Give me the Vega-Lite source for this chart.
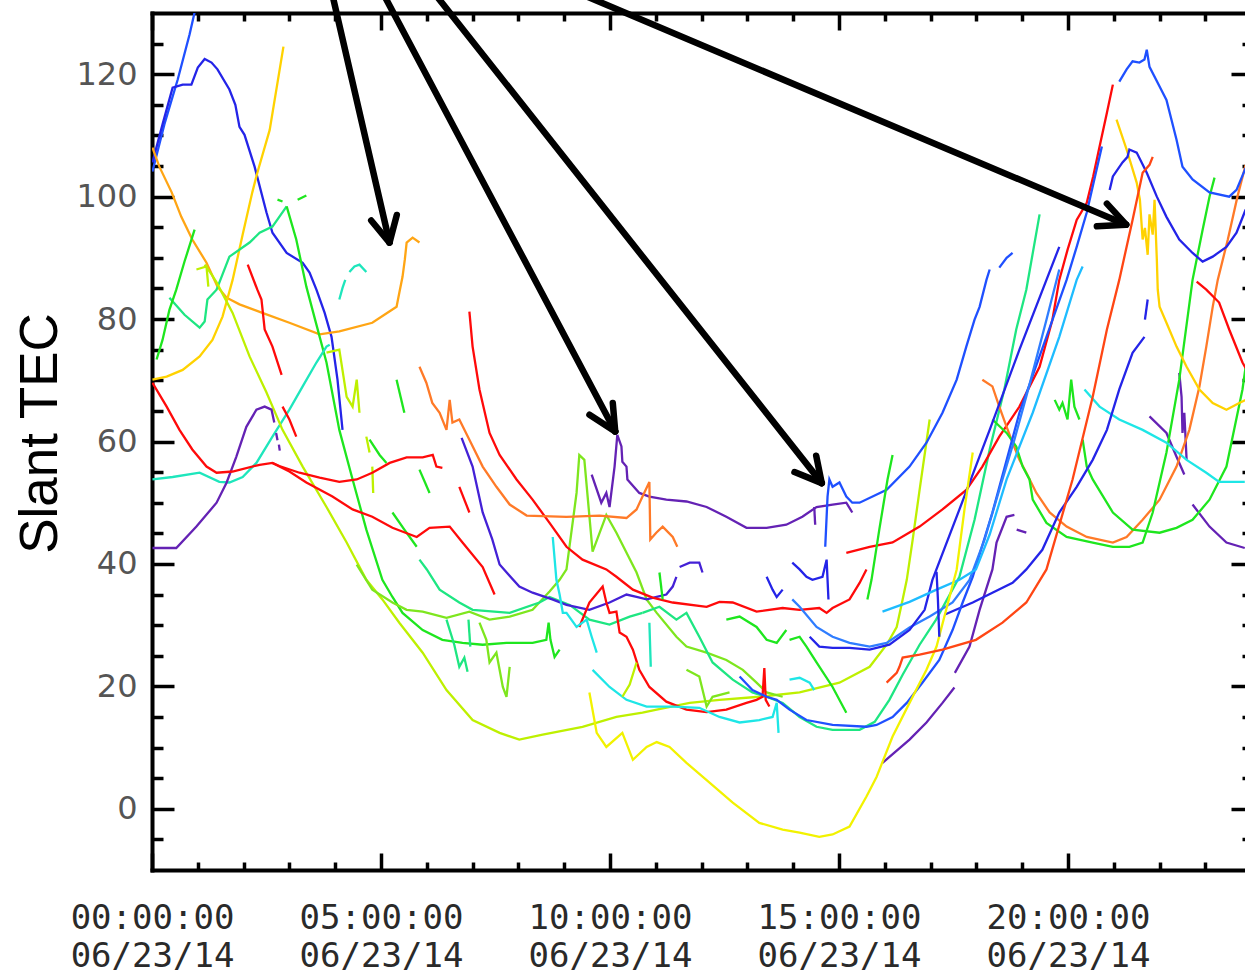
{
"$schema":"https://vega.github.io/schema/vega-lite/v6.json",
"autosize":{"type":"none"},
"padding":{"left":152,"top":13,"right":0,"bottom":106},
"width":1093,"height":857,
"background":"white",
"config":{"view":{"stroke":null},"axis":{"grid":false}},
"resolve":{"axis":{"x":"independent","y":"independent"}},
"layer":[
{"data":{"values":[
{"s":"s1","c":"blue2","h":0.01,"v":104.1},{"s":"s1","c":"blue2","h":0.27,"v":111.8},{"s":"s1","c":"blue2","h":0.56,"v":119.1},{"s":"s1","c":"blue2","h":0.82,"v":126.5},{"s":"s1","c":"blue2","h":0.97,"v":131.4},
{"s":"s2","c":"blue","h":0.01,"v":105.6},{"s":"s2","c":"blue","h":0.23,"v":111.8},{"s":"s2","c":"blue","h":0.45,"v":117.8},{"s":"s2","c":"blue","h":0.67,"v":118.3},{"s":"s2","c":"blue","h":0.86,"v":118.3},{"s":"s2","c":"blue","h":1.0,"v":121.1},{"s":"s2","c":"blue","h":1.15,"v":122.5},{"s":"s2","c":"blue","h":1.30,"v":121.9},{"s":"s2","c":"blue","h":1.43,"v":120.8},{"s":"s2","c":"blue","h":1.69,"v":117.5},{"s":"s2","c":"blue","h":1.82,"v":115.0},{"s":"s2","c":"blue","h":1.91,"v":111.4},{"s":"s2","c":"blue","h":2.02,"v":110.1},{"s":"s2","c":"blue","h":2.24,"v":104.9},{"s":"s2","c":"blue","h":2.50,"v":97.4},{"s":"s2","c":"blue","h":2.63,"v":94.1},{"s":"s2","c":"blue","h":2.94,"v":90.8},{"s":"s2","c":"blue","h":3.29,"v":89.2},{"s":"s2","c":"blue","h":3.44,"v":87.6},{"s":"s2","c":"blue","h":3.59,"v":84.8},{"s":"s2","c":"blue","h":3.77,"v":81.0},{"s":"s2","c":"blue","h":3.92,"v":77.1},{"s":"s2","c":"blue","h":4.05,"v":70.1},{"s":"s2","c":"blue","h":4.16,"v":61.9},
{"s":"s3","c":"orange","h":0.01,"v":108.0},{"s":"s3","c":"orange","h":0.16,"v":104.9},{"s":"s3","c":"orange","h":0.43,"v":100.7},{"s":"s3","c":"orange","h":0.64,"v":96.7},{"s":"s3","c":"orange","h":0.88,"v":93.0},{"s":"s3","c":"orange","h":1.19,"v":89.2},{"s":"s3","c":"orange","h":1.43,"v":85.3},{"s":"s3","c":"orange","h":1.63,"v":83.5},{"s":"s3","c":"orange","h":1.91,"v":82.4},{"s":"s3","c":"orange","h":2.41,"v":81.0},{"s":"s3","c":"orange","h":3.00,"v":79.4},{"s":"s3","c":"orange","h":3.66,"v":77.5},{"s":"s3","c":"orange","h":4.09,"v":78.0},{"s":"s3","c":"orange","h":4.81,"v":79.4},{"s":"s3","c":"orange","h":5.34,"v":82.0},{"s":"s3","c":"orange","h":5.40,"v":84.3},{"s":"s3","c":"orange","h":5.47,"v":86.9},{"s":"s3","c":"orange","h":5.52,"v":89.7},{"s":"s3","c":"orange","h":5.56,"v":92.5},{"s":"s3","c":"orange","h":5.69,"v":93.3},{"s":"s3","c":"orange","h":5.84,"v":92.5},
{"s":"s4","c":"gold","h":0.01,"v":70.1},{"s":"s4","c":"gold","h":0.32,"v":70.6},{"s":"s4","c":"gold","h":0.67,"v":71.7},{"s":"s4","c":"gold","h":1.04,"v":73.9},{"s":"s4","c":"gold","h":1.32,"v":76.6},{"s":"s4","c":"gold","h":1.54,"v":80.4},{"s":"s4","c":"gold","h":1.76,"v":86.4},{"s":"s4","c":"gold","h":1.98,"v":93.8},{"s":"s4","c":"gold","h":2.19,"v":100.7},{"s":"s4","c":"gold","h":2.30,"v":103.9},{"s":"s4","c":"gold","h":2.57,"v":110.9},{"s":"s4","c":"gold","h":2.87,"v":124.5},
{"s":"s5","c":"spring","h":0.38,"v":83.5},{"s":"s5","c":"spring","h":0.71,"v":80.7},{"s":"s5","c":"spring","h":1.04,"v":78.6},{"s":"s5","c":"spring","h":1.15,"v":79.6},{"s":"s5","c":"spring","h":1.21,"v":83.2},{"s":"s5","c":"spring","h":1.41,"v":84.8},{"s":"s5","c":"spring","h":1.69,"v":90.2},{"s":"s5","c":"spring","h":2.13,"v":92.5},{"s":"s5","c":"spring","h":2.35,"v":94.1},{"s":"s5","c":"spring","h":2.63,"v":95.1},{"s":"s5","c":"spring","h":2.94,"v":98.4},
{"s":"s6","c":"green","h":0.10,"v":73.4},{"s":"s6","c":"green","h":0.23,"v":76.6},{"s":"s6","c":"green","h":0.38,"v":81.5},{"s":"s6","c":"green","h":0.53,"v":84.8},{"s":"s6","c":"green","h":0.71,"v":89.4},{"s":"s6","c":"green","h":0.93,"v":94.6},
{"s":"s7","c":"green","h":2.94,"v":98.4},{"s":"s7","c":"green","h":3.15,"v":93.0},{"s":"s7","c":"green","h":3.37,"v":85.3},{"s":"s7","c":"green","h":3.59,"v":79.1},{"s":"s7","c":"green","h":3.81,"v":72.9},{"s":"s7","c":"green","h":4.09,"v":61.9},{"s":"s7","c":"green","h":4.38,"v":53.8},{"s":"s7","c":"green","h":4.68,"v":45.6},{"s":"s7","c":"green","h":5.03,"v":37.4},{"s":"s7","c":"green","h":5.25,"v":34.6},{"s":"s7","c":"green","h":5.47,"v":32.0},{"s":"s7","c":"green","h":5.91,"v":29.2},{"s":"s7","c":"green","h":6.34,"v":27.6},{"s":"s7","c":"green","h":6.78,"v":27.1},{"s":"s7","c":"green","h":7.22,"v":26.8},{"s":"s7","c":"green","h":7.74,"v":27.1},{"s":"s7","c":"green","h":8.31,"v":27.1},{"s":"s7","c":"green","h":8.61,"v":27.6},{"s":"s7","c":"green","h":8.66,"v":30.4},{"s":"s7","c":"green","h":8.70,"v":27.6},{"s":"s7","c":"green","h":8.79,"v":24.8},{"s":"s7","c":"green","h":8.90,"v":26.0},
{"s":"s8","c":"turq","h":0.01,"v":53.8},{"s":"s8","c":"turq","h":0.45,"v":54.2},{"s":"s8","c":"turq","h":1.04,"v":54.9},{"s":"s8","c":"turq","h":1.47,"v":53.4},{"s":"s8","c":"turq","h":1.69,"v":53.3},{"s":"s8","c":"turq","h":1.98,"v":54.2},{"s":"s8","c":"turq","h":2.28,"v":56.5},{"s":"s8","c":"turq","h":2.63,"v":60.8},{"s":"s8","c":"turq","h":3.00,"v":65.2},{"s":"s8","c":"turq","h":3.29,"v":69.0},{"s":"s8","c":"turq","h":3.59,"v":72.9},{"s":"s8","c":"turq","h":3.81,"v":75.5},{"s":"s8","c":"turq","h":3.88,"v":75.8},
{"s":"s9","c":"turq","h":4.09,"v":83.2},{"s":"s9","c":"turq","h":4.16,"v":85.1},{"s":"s9","c":"turq","h":4.22,"v":86.4},
{"s":"s10","c":"turq","h":4.31,"v":87.7},{"s":"s10","c":"turq","h":4.42,"v":88.6},{"s":"s10","c":"turq","h":4.53,"v":88.9},{"s":"s10","c":"turq","h":4.68,"v":87.7},
{"s":"s11","c":"ygreen","h":1.15,"v":88.9},{"s":"s11","c":"ygreen","h":1.30,"v":87.3},{"s":"s11","c":"ygreen","h":1.41,"v":86.0},{"s":"s11","c":"ygreen","h":1.76,"v":81.0},{"s":"s11","c":"ygreen","h":2.13,"v":73.9},{"s":"s11","c":"ygreen","h":2.50,"v":68.0},{"s":"s11","c":"ygreen","h":2.85,"v":61.9},{"s":"s11","c":"ygreen","h":3.29,"v":55.9},{"s":"s11","c":"ygreen","h":3.81,"v":49.3},{"s":"s11","c":"ygreen","h":4.25,"v":43.5},{"s":"s11","c":"ygreen","h":4.68,"v":37.4},{"s":"s11","c":"ygreen","h":5.03,"v":34.2},{"s":"s11","c":"ygreen","h":5.40,"v":30.4},{"s":"s11","c":"ygreen","h":5.91,"v":25.5},{"s":"s11","c":"ygreen","h":6.43,"v":19.4},{"s":"s11","c":"ygreen","h":7.00,"v":14.5},{"s":"s11","c":"ygreen","h":7.59,"v":12.4},{"s":"s11","c":"ygreen","h":8.02,"v":11.3},{"s":"s11","c":"ygreen","h":8.53,"v":12.1},{"s":"s11","c":"ygreen","h":9.40,"v":13.4},{"s":"s11","c":"ygreen","h":10.14,"v":15.0},{"s":"s11","c":"ygreen","h":10.71,"v":15.7},{"s":"s11","c":"ygreen","h":11.02,"v":16.2},{"s":"s11","c":"ygreen","h":11.74,"v":17.3},{"s":"s11","c":"ygreen","h":12.39,"v":17.8},{"s":"s11","c":"ygreen","h":13.26,"v":18.3},{"s":"s11","c":"ygreen","h":14.14,"v":19.0},{"s":"s11","c":"ygreen","h":15.01,"v":20.6},{"s":"s11","c":"ygreen","h":15.67,"v":23.2},{"s":"s11","c":"ygreen","h":16.04,"v":26.8},{"s":"s11","c":"ygreen","h":16.26,"v":29.7},{"s":"s11","c":"ygreen","h":16.39,"v":34.2},{"s":"s11","c":"ygreen","h":16.48,"v":37.4},{"s":"s11","c":"ygreen","h":16.61,"v":44.0},{"s":"s11","c":"ygreen","h":16.76,"v":52.1},{"s":"s11","c":"ygreen","h":16.98,"v":63.6},
{"s":"s12","c":"lime","h":4.47,"v":39.9},{"s":"s12","c":"lime","h":4.81,"v":35.8},{"s":"s12","c":"lime","h":5.25,"v":33.7},{"s":"s12","c":"lime","h":5.56,"v":32.5},{"s":"s12","c":"lime","h":5.91,"v":32.2},{"s":"s12","c":"lime","h":6.43,"v":31.2},{"s":"s12","c":"lime","h":6.93,"v":32.2},{"s":"s12","c":"lime","h":7.37,"v":30.9},{"s":"s12","c":"lime","h":7.81,"v":31.4},{"s":"s12","c":"lime","h":8.31,"v":32.5},{"s":"s12","c":"lime","h":8.68,"v":35.5},{"s":"s12","c":"lime","h":8.90,"v":37.4},{"s":"s12","c":"lime","h":9.05,"v":39.1},{"s":"s12","c":"lime","h":9.27,"v":51.6},{"s":"s12","c":"lime","h":9.33,"v":57.8},{"s":"s12","c":"lime","h":9.44,"v":57.0},{"s":"s12","c":"lime","h":9.62,"v":42.0},{"s":"s12","c":"lime","h":9.92,"v":48.0},{"s":"s12","c":"lime","h":10.14,"v":45.1},{"s":"s12","c":"lime","h":10.58,"v":38.6},{"s":"s12","c":"lime","h":10.80,"v":34.2},{"s":"s12","c":"lime","h":11.02,"v":32.0},{"s":"s12","c":"lime","h":11.45,"v":28.1},{"s":"s12","c":"lime","h":11.67,"v":26.5},{"s":"s12","c":"lime","h":12.11,"v":25.5},{"s":"s12","c":"lime","h":12.54,"v":24.3},{"s":"s12","c":"lime","h":12.90,"v":22.7},{"s":"s12","c":"lime","h":13.20,"v":20.6},{"s":"s12","c":"lime","h":13.42,"v":19.0},{"s":"s12","c":"lime","h":13.77,"v":18.3},
{"s":"s13","c":"spring","h":10.71,"v":32.0},{"s":"s13","c":"spring","h":11.08,"v":33.0},{"s":"s13","c":"spring","h":11.45,"v":30.9},{"s":"s13","c":"spring","h":11.67,"v":32.0},{"s":"s13","c":"spring","h":11.95,"v":28.1},{"s":"s13","c":"spring","h":12.24,"v":23.9},{"s":"s13","c":"spring","h":12.68,"v":21.1},{"s":"s13","c":"spring","h":13.11,"v":19.0},{"s":"s13","c":"spring","h":13.42,"v":18.3},{"s":"s13","c":"spring","h":13.77,"v":17.3},{"s":"s13","c":"spring","h":14.14,"v":15.0},{"s":"s13","c":"spring","h":14.51,"v":13.4},{"s":"s13","c":"spring","h":14.86,"v":12.9},{"s":"s13","c":"spring","h":15.45,"v":12.9},{"s":"s13","c":"spring","h":15.78,"v":14.2},{"s":"s13","c":"spring","h":16.10,"v":17.8},{"s":"s13","c":"spring","h":16.39,"v":21.9},{"s":"s13","c":"spring","h":16.76,"v":26.8},{"s":"s13","c":"spring","h":17.12,"v":30.9},{"s":"s13","c":"spring","h":17.63,"v":37.9},{"s":"s13","c":"spring","h":17.96,"v":47.2},{"s":"s13","c":"spring","h":18.29,"v":58.7},{"s":"s13","c":"spring","h":18.61,"v":68.5},{"s":"s13","c":"spring","h":18.87,"v":78.3},{"s":"s13","c":"spring","h":19.09,"v":84.8},{"s":"s13","c":"spring","h":19.38,"v":97.1},
{"s":"s14","c":"spring","h":5.84,"v":40.7},{"s":"s14","c":"spring","h":6.00,"v":39.1},{"s":"s14","c":"spring","h":6.28,"v":35.8},{"s":"s14","c":"spring","h":6.71,"v":33.7},{"s":"s14","c":"spring","h":7.00,"v":32.5},{"s":"s14","c":"spring","h":7.81,"v":32.0},{"s":"s14","c":"spring","h":8.46,"v":33.7},{"s":"s14","c":"spring","h":8.68,"v":34.6},{"s":"s14","c":"spring","h":9.12,"v":33.3},{"s":"s14","c":"spring","h":9.55,"v":30.9},{"s":"s14","c":"spring","h":9.99,"v":30.1},{"s":"s14","c":"spring","h":10.43,"v":31.4},{"s":"s14","c":"spring","h":10.71,"v":32.0},
{"s":"s15","c":"green","h":5.34,"v":70.1},{"s":"s15","c":"green","h":5.51,"v":64.7},
{"s":"s16","c":"green","h":4.75,"v":60.3},{"s":"s16","c":"green","h":4.97,"v":57.8},{"s":"s16","c":"green","h":5.12,"v":56.5},
{"s":"s17","c":"green","h":5.84,"v":55.4},{"s":"s17","c":"green","h":6.06,"v":51.6},
{"s":"s18","c":"green","h":5.25,"v":48.4},{"s":"s18","c":"green","h":5.51,"v":45.6},{"s":"s18","c":"green","h":5.78,"v":42.8},
{"s":"s19","c":"ygreen","h":3.81,"v":74.5},{"s":"s19","c":"ygreen","h":4.09,"v":75.0},{"s":"s19","c":"ygreen","h":4.25,"v":67.3},{"s":"s19","c":"ygreen","h":4.38,"v":65.7},{"s":"s19","c":"ygreen","h":4.47,"v":70.1},{"s":"s19","c":"ygreen","h":4.53,"v":64.7},
{"s":"s20","c":"ygreen","h":4.68,"v":60.8},{"s":"s20","c":"ygreen","h":4.75,"v":58.2},
{"s":"s21","c":"ygreen","h":4.81,"v":55.9},{"s":"s21","c":"ygreen","h":4.83,"v":51.6},
{"s":"s22","c":"purple","h":0.01,"v":42.6},{"s":"s22","c":"purple","h":0.53,"v":42.6},{"s":"s22","c":"purple","h":0.97,"v":46.1},{"s":"s22","c":"purple","h":1.41,"v":50.0},{"s":"s22","c":"purple","h":1.63,"v":53.3},{"s":"s22","c":"purple","h":1.84,"v":57.5},{"s":"s22","c":"purple","h":2.06,"v":62.4},{"s":"s22","c":"purple","h":2.28,"v":65.2},{"s":"s22","c":"purple","h":2.46,"v":65.7},{"s":"s22","c":"purple","h":2.61,"v":65.2},{"s":"s22","c":"purple","h":2.67,"v":63.1},
{"s":"s23","c":"purple","h":2.71,"v":61.4},{"s":"s23","c":"purple","h":2.74,"v":60.2},
{"s":"s23b","c":"purple","h":2.77,"v":59.5},{"s":"s23b","c":"purple","h":2.79,"v":58.5},
{"s":"s24","c":"indigo","h":6.76,"v":60.6},{"s":"s24","c":"indigo","h":7.00,"v":55.9},{"s":"s24","c":"indigo","h":7.22,"v":48.4},{"s":"s24","c":"indigo","h":7.43,"v":44.0},{"s":"s24","c":"indigo","h":7.59,"v":39.9},{"s":"s24","c":"indigo","h":8.02,"v":36.3},{"s":"s24","c":"indigo","h":8.31,"v":35.3},{"s":"s24","c":"indigo","h":8.74,"v":34.2},{"s":"s24","c":"indigo","h":9.05,"v":33.3},{"s":"s24","c":"indigo","h":9.55,"v":32.5},{"s":"s24","c":"indigo","h":9.99,"v":33.7},{"s":"s24","c":"indigo","h":10.36,"v":35.0},{"s":"s24","c":"indigo","h":10.58,"v":34.6},{"s":"s24","c":"indigo","h":10.80,"v":34.2},{"s":"s24","c":"indigo","h":11.02,"v":34.6},{"s":"s24","c":"indigo","h":11.23,"v":35.0},{"s":"s24","c":"indigo","h":11.37,"v":36.3},{"s":"s24","c":"indigo","h":11.45,"v":37.9},
{"s":"s25","c":"indigo","h":11.52,"v":39.5},{"s":"s25","c":"indigo","h":11.74,"v":40.2},{"s":"s25","c":"indigo","h":11.95,"v":40.2},{"s":"s25","c":"indigo","h":12.02,"v":38.6},
{"s":"s26","c":"purple","h":9.60,"v":54.6},{"s":"s26","c":"purple","h":9.81,"v":50.0},{"s":"s26","c":"purple","h":9.92,"v":51.6},{"s":"s26","c":"purple","h":9.99,"v":49.3},{"s":"s26","c":"purple","h":10.10,"v":55.9},{"s":"s26","c":"purple","h":10.16,"v":61.1},{"s":"s26","c":"purple","h":10.25,"v":59.2},{"s":"s26","c":"purple","h":10.27,"v":56.7},{"s":"s26","c":"purple","h":10.36,"v":55.9},{"s":"s26","c":"purple","h":10.38,"v":53.8},{"s":"s26","c":"purple","h":10.64,"v":51.6},{"s":"s26","c":"purple","h":10.86,"v":51.0},{"s":"s26","c":"purple","h":11.23,"v":50.5},{"s":"s26","c":"purple","h":11.67,"v":50.2},{"s":"s26","c":"purple","h":12.11,"v":49.3},{"s":"s26","c":"purple","h":12.54,"v":47.7},{"s":"s26","c":"purple","h":12.98,"v":45.9},{"s":"s26","c":"purple","h":13.42,"v":45.9},{"s":"s26","c":"purple","h":13.85,"v":46.4},{"s":"s26","c":"purple","h":14.20,"v":47.7},{"s":"s26","c":"purple","h":14.51,"v":49.3},{"s":"s26","c":"purple","h":14.86,"v":49.7},{"s":"s26","c":"purple","h":15.16,"v":50.0},{"s":"s26","c":"purple","h":15.29,"v":48.4},
{"s":"s27","c":"purple","h":14.46,"v":49.3},{"s":"s27","c":"purple","h":14.48,"v":46.4},
{"s":"s28","c":"purple","h":21.78,"v":64.1},{"s":"s28","c":"purple","h":22.15,"v":61.4},{"s":"s28","c":"purple","h":22.37,"v":57.5},{"s":"s28","c":"purple","h":22.54,"v":54.6},
{"s":"s29","c":"purple","h":22.72,"v":49.7},{"s":"s29","c":"purple","h":23.09,"v":46.1},{"s":"s29","c":"purple","h":23.46,"v":43.5},{"s":"s29","c":"purple","h":23.86,"v":42.6},
{"s":"s30","c":"purple","h":22.43,"v":71.2},{"s":"s30","c":"purple","h":22.48,"v":67.3},{"s":"s30","c":"purple","h":22.50,"v":61.4},{"s":"s30","c":"purple","h":22.54,"v":64.7},{"s":"s30","c":"purple","h":22.59,"v":57.0},
{"s":"s31","c":"purple","h":15.95,"v":7.5},{"s":"s31","c":"purple","h":16.54,"v":11.3},{"s":"s31","c":"purple","h":16.91,"v":14.1},{"s":"s31","c":"purple","h":17.26,"v":17.3},{"s":"s31","c":"purple","h":17.52,"v":19.8},
{"s":"s32","c":"purple","h":17.53,"v":22.2},{"s":"s32","c":"purple","h":17.85,"v":26.5},{"s":"s32","c":"purple","h":18.07,"v":32.5},{"s":"s32","c":"purple","h":18.35,"v":39.1},{"s":"s32","c":"purple","h":18.44,"v":43.5},{"s":"s32","c":"purple","h":18.66,"v":47.7},{"s":"s32","c":"purple","h":18.83,"v":48.0},
{"s":"s33","c":"purple","h":18.88,"v":45.6},{"s":"s33","c":"purple","h":19.09,"v":45.1},
{"s":"s34","c":"red","h":0.01,"v":69.6},{"s":"s34","c":"red","h":0.32,"v":65.7},{"s":"s34","c":"red","h":0.60,"v":61.9},{"s":"s34","c":"red","h":0.88,"v":58.7},{"s":"s34","c":"red","h":1.19,"v":55.9},{"s":"s34","c":"red","h":1.41,"v":54.9},{"s":"s34","c":"red","h":1.76,"v":55.1},{"s":"s34","c":"red","h":2.35,"v":56.2},{"s":"s34","c":"red","h":2.63,"v":56.5},{"s":"s34","c":"red","h":2.78,"v":56.0},{"s":"s34","c":"red","h":3.22,"v":54.9},{"s":"s34","c":"red","h":3.66,"v":54.1},{"s":"s34","c":"red","h":4.09,"v":53.4},{"s":"s34","c":"red","h":4.47,"v":53.8},{"s":"s34","c":"red","h":4.81,"v":54.9},{"s":"s34","c":"red","h":5.19,"v":56.5},{"s":"s34","c":"red","h":5.56,"v":57.4},{"s":"s34","c":"red","h":5.91,"v":57.4},{"s":"s34","c":"red","h":6.13,"v":57.8},{"s":"s34","c":"red","h":6.21,"v":55.9},{"s":"s34","c":"red","h":6.34,"v":55.7},
{"s":"s35","c":"red","h":2.63,"v":56.5},{"s":"s35","c":"red","h":3.00,"v":55.1},{"s":"s35","c":"red","h":3.37,"v":53.3},{"s":"s35","c":"red","h":3.94,"v":51.0},{"s":"s35","c":"red","h":4.38,"v":48.9},{"s":"s35","c":"red","h":4.81,"v":47.7},{"s":"s35","c":"red","h":5.25,"v":45.9},{"s":"s35","c":"red","h":5.78,"v":44.4},{"s":"s35","c":"red","h":6.06,"v":45.9},{"s":"s35","c":"red","h":6.50,"v":46.1},{"s":"s35","c":"red","h":6.78,"v":43.5},{"s":"s35","c":"red","h":7.22,"v":39.5},{"s":"s35","c":"red","h":7.48,"v":35.0},
{"s":"s36","c":"red","h":2.09,"v":88.9},{"s":"s36","c":"red","h":2.30,"v":84.8},{"s":"s36","c":"red","h":2.39,"v":83.2},{"s":"s36","c":"red","h":2.46,"v":78.3},{"s":"s36","c":"red","h":2.63,"v":75.5},{"s":"s36","c":"red","h":2.83,"v":70.9},
{"s":"s37","c":"red","h":2.85,"v":65.7},{"s":"s37","c":"red","h":3.00,"v":63.6},{"s":"s37","c":"red","h":3.15,"v":60.8},
{"s":"s38","c":"red","h":6.71,"v":52.6},{"s":"s38","c":"red","h":6.93,"v":48.4},
{"s":"s40","c":"red","h":6.93,"v":81.2},{"s":"s40","c":"red","h":7.00,"v":75.5},{"s":"s40","c":"red","h":7.15,"v":68.5},{"s":"s40","c":"red","h":7.37,"v":61.4},{"s":"s40","c":"red","h":7.59,"v":57.8},{"s":"s40","c":"red","h":7.96,"v":53.8},{"s":"s40","c":"red","h":8.31,"v":50.5},{"s":"s40","c":"red","h":8.68,"v":46.7},{"s":"s40","c":"red","h":9.05,"v":42.8},{"s":"s40","c":"red","h":9.40,"v":40.7},{"s":"s40","c":"red","h":9.92,"v":39.1},{"s":"s40","c":"red","h":10.14,"v":37.9},{"s":"s40","c":"red","h":10.50,"v":35.8},{"s":"s40","c":"red","h":10.93,"v":34.5},{"s":"s40","c":"red","h":11.37,"v":33.7},{"s":"s40","c":"red","h":12.11,"v":33.0},{"s":"s40","c":"red","h":12.39,"v":33.8},{"s":"s40","c":"red","h":12.68,"v":33.7},{"s":"s40","c":"red","h":13.20,"v":32.2},{"s":"s40","c":"red","h":13.77,"v":32.8},{"s":"s40","c":"red","h":14.14,"v":32.5},{"s":"s40","c":"red","h":14.57,"v":32.8},{"s":"s40","c":"red","h":14.73,"v":32.0},{"s":"s40","c":"red","h":14.86,"v":32.8},{"s":"s40","c":"red","h":15.23,"v":34.2},{"s":"s40","c":"red","h":15.45,"v":36.9},{"s":"s40","c":"red","h":15.60,"v":39.1},
{"s":"s41","c":"red","h":15.16,"v":41.8},{"s":"s41","c":"red","h":15.67,"v":42.8},{"s":"s41","c":"red","h":16.17,"v":43.5},{"s":"s41","c":"red","h":16.76,"v":46.1},{"s":"s41","c":"red","h":17.26,"v":48.9},{"s":"s41","c":"red","h":17.78,"v":52.1},{"s":"s41","c":"red","h":18.13,"v":55.9},{"s":"s41","c":"red","h":18.50,"v":60.8},{"s":"s41","c":"red","h":18.94,"v":65.7},{"s":"s41","c":"red","h":19.38,"v":72.2},{"s":"s41","c":"red","h":19.66,"v":79.9},{"s":"s41","c":"red","h":19.81,"v":86.4},{"s":"s41","c":"red","h":19.99,"v":91.3},{"s":"s41","c":"red","h":20.19,"v":96.2},{"s":"s41","c":"red","h":20.41,"v":99.0},{"s":"s41","c":"red","h":20.55,"v":103.3},{"s":"s41","c":"red","h":20.69,"v":108.2},{"s":"s41","c":"red","h":20.85,"v":113.7},{"s":"s41","c":"red","h":20.98,"v":118.3},
{"s":"s42","c":"red","h":9.33,"v":29.7},{"s":"s42","c":"red","h":9.55,"v":33.7},{"s":"s42","c":"red","h":9.84,"v":36.3},{"s":"s42","c":"red","h":9.92,"v":33.7},{"s":"s42","c":"red","h":9.99,"v":32.0},{"s":"s42","c":"red","h":10.14,"v":32.2},{"s":"s42","c":"red","h":10.21,"v":28.8},{"s":"s42","c":"red","h":10.36,"v":28.1},{"s":"s42","c":"red","h":10.50,"v":26.0},{"s":"s42","c":"red","h":10.64,"v":22.7},{"s":"s42","c":"red","h":10.86,"v":19.9},{"s":"s42","c":"red","h":11.23,"v":17.5},{"s":"s42","c":"red","h":11.67,"v":16.2},{"s":"s42","c":"red","h":12.11,"v":15.8},{"s":"s42","c":"red","h":12.54,"v":16.2},{"s":"s42","c":"red","h":12.98,"v":17.3},{"s":"s42","c":"red","h":13.20,"v":17.8},{"s":"s42","c":"red","h":13.33,"v":18.3},{"s":"s42","c":"red","h":13.37,"v":23.0},{"s":"s42","c":"red","h":13.40,"v":17.8},{"s":"s42","c":"red","h":13.48,"v":16.7},
{"s":"s43","c":"dorange","h":5.84,"v":72.2},{"s":"s43","c":"dorange","h":5.99,"v":69.6},{"s":"s43","c":"dorange","h":6.12,"v":66.3},{"s":"s43","c":"dorange","h":6.28,"v":64.7},{"s":"s43","c":"dorange","h":6.43,"v":61.9},{"s":"s43","c":"dorange","h":6.50,"v":66.8},{"s":"s43","c":"dorange","h":6.56,"v":63.1},{"s":"s43","c":"dorange","h":6.71,"v":63.6},{"s":"s43","c":"dorange","h":6.93,"v":60.3},{"s":"s43","c":"dorange","h":7.22,"v":55.9},{"s":"s43","c":"dorange","h":7.52,"v":52.6},{"s":"s43","c":"dorange","h":7.81,"v":49.7},{"s":"s43","c":"dorange","h":8.18,"v":47.9},{"s":"s43","c":"dorange","h":9.05,"v":47.7},{"s":"s43","c":"dorange","h":9.77,"v":47.9},{"s":"s43","c":"dorange","h":10.36,"v":47.5},{"s":"s43","c":"dorange","h":10.58,"v":48.9},{"s":"s43","c":"dorange","h":10.71,"v":51.0},{"s":"s43","c":"dorange","h":10.86,"v":53.4},{"s":"s43","c":"dorange","h":10.88,"v":44.0},{"s":"s43","c":"dorange","h":11.01,"v":45.1},{"s":"s43","c":"dorange","h":11.15,"v":46.1},{"s":"s43","c":"dorange","h":11.37,"v":44.4},{"s":"s43","c":"dorange","h":11.47,"v":42.8},
{"s":"s44","c":"dorange","h":18.13,"v":70.1},{"s":"s44","c":"dorange","h":18.35,"v":69.0},{"s":"s44","c":"dorange","h":18.50,"v":65.7},{"s":"s44","c":"dorange","h":18.66,"v":62.4},{"s":"s44","c":"dorange","h":18.79,"v":59.8},{"s":"s44","c":"dorange","h":18.94,"v":57.0},{"s":"s44","c":"dorange","h":19.09,"v":54.9},{"s":"s44","c":"dorange","h":19.31,"v":51.6},{"s":"s44","c":"dorange","h":19.60,"v":48.4},{"s":"s44","c":"dorange","h":19.97,"v":46.1},{"s":"s44","c":"dorange","h":20.41,"v":44.4},{"s":"s44","c":"dorange","h":20.98,"v":43.5},{"s":"s44","c":"dorange","h":21.28,"v":44.4},{"s":"s44","c":"dorange","h":21.63,"v":47.2},{"s":"s44","c":"dorange","h":22.00,"v":50.5},{"s":"s44","c":"dorange","h":22.37,"v":55.9},{"s":"s44","c":"dorange","h":22.65,"v":61.9},{"s":"s44","c":"dorange","h":22.87,"v":69.0},{"s":"s44","c":"dorange","h":23.02,"v":75.5},{"s":"s44","c":"dorange","h":23.16,"v":82.0},{"s":"s44","c":"dorange","h":23.27,"v":86.4},{"s":"s44","c":"dorange","h":23.49,"v":93.0},{"s":"s44","c":"dorange","h":23.70,"v":100.0},{"s":"s44","c":"dorange","h":23.88,"v":105.2},
{"s":"s45","c":"green","h":18.35,"v":63.6},{"s":"s45","c":"green","h":18.66,"v":61.4},{"s":"s45","c":"green","h":18.87,"v":59.2},{"s":"s45","c":"green","h":19.01,"v":55.9},{"s":"s45","c":"green","h":19.16,"v":53.8},{"s":"s45","c":"green","h":19.23,"v":50.5},{"s":"s45","c":"green","h":19.53,"v":46.7},{"s":"s45","c":"green","h":19.97,"v":44.4},{"s":"s45","c":"green","h":20.54,"v":43.5},{"s":"s45","c":"green","h":20.98,"v":42.8},{"s":"s45","c":"green","h":21.34,"v":42.8},{"s":"s45","c":"green","h":21.63,"v":43.5},{"s":"s45","c":"green","h":21.85,"v":48.4},{"s":"s45","c":"green","h":22.15,"v":58.2},{"s":"s45","c":"green","h":22.43,"v":70.1},{"s":"s45","c":"green","h":22.72,"v":86.4},{"s":"s45","c":"green","h":22.94,"v":94.6},{"s":"s45","c":"green","h":23.09,"v":100.0},{"s":"s45","c":"green","h":23.20,"v":103.1},
{"s":"s46","c":"green","h":20.32,"v":60.3},{"s":"s46","c":"green","h":20.41,"v":55.9},{"s":"s46","c":"green","h":20.54,"v":53.8},{"s":"s46","c":"green","h":20.98,"v":48.4},{"s":"s46","c":"green","h":21.41,"v":45.6},{"s":"s46","c":"green","h":22.00,"v":45.1},{"s":"s46","c":"green","h":22.37,"v":45.9},{"s":"s46","c":"green","h":22.72,"v":47.2},{"s":"s46","c":"green","h":23.09,"v":50.5},{"s":"s46","c":"green","h":23.46,"v":55.9},{"s":"s46","c":"green","h":23.81,"v":68.5},{"s":"s46","c":"green","h":23.96,"v":76.6},
{"s":"s47","c":"green","h":19.71,"v":66.8},{"s":"s47","c":"green","h":19.81,"v":65.2},{"s":"s47","c":"green","h":19.88,"v":66.3},{"s":"s47","c":"green","h":19.99,"v":63.6},{"s":"s47","c":"green","h":20.07,"v":70.1},{"s":"s47","c":"green","h":20.14,"v":65.7},{"s":"s47","c":"green","h":20.25,"v":63.6},
{"s":"s48","c":"cyan","h":20.36,"v":68.5},{"s":"s48","c":"cyan","h":20.69,"v":65.7},{"s":"s48","c":"cyan","h":21.12,"v":63.6},{"s":"s48","c":"cyan","h":21.63,"v":61.9},{"s":"s48","c":"cyan","h":22.15,"v":59.8},{"s":"s48","c":"cyan","h":22.59,"v":57.0},{"s":"s48","c":"cyan","h":23.02,"v":54.9},{"s":"s48","c":"cyan","h":23.30,"v":53.4},{"s":"s48","c":"cyan","h":23.86,"v":53.4},
{"s":"s49","c":"gold","h":21.06,"v":112.6},{"s":"s49","c":"gold","h":21.28,"v":107.7},{"s":"s49","c":"gold","h":21.50,"v":102.3},{"s":"s49","c":"gold","h":21.57,"v":99.5},{"s":"s49","c":"gold","h":21.63,"v":93.0},{"s":"s49","c":"gold","h":21.68,"v":94.9},{"s":"s49","c":"gold","h":21.74,"v":90.5},{"s":"s49","c":"gold","h":21.78,"v":97.1},{"s":"s49","c":"gold","h":21.85,"v":93.8},{"s":"s49","c":"gold","h":21.89,"v":99.5},{"s":"s49","c":"gold","h":21.94,"v":89.7},{"s":"s49","c":"gold","h":21.96,"v":84.8},{"s":"s49","c":"gold","h":22.00,"v":82.0},{"s":"s49","c":"gold","h":22.15,"v":79.4},{"s":"s49","c":"gold","h":22.37,"v":75.5},{"s":"s49","c":"gold","h":22.59,"v":72.2},{"s":"s49","c":"gold","h":22.87,"v":68.5},{"s":"s49","c":"gold","h":23.16,"v":66.3},{"s":"s49","c":"gold","h":23.46,"v":65.2},{"s":"s49","c":"gold","h":23.74,"v":66.3},{"s":"s49","c":"gold","h":23.88,"v":66.8},
{"s":"s50","c":"blue","h":20.91,"v":101.1},{"s":"s50","c":"blue","h":20.98,"v":103.3},{"s":"s50","c":"blue","h":21.19,"v":105.6},{"s":"s50","c":"blue","h":21.30,"v":106.5},{"s":"s50","c":"blue","h":21.34,"v":107.7},{"s":"s50","c":"blue","h":21.50,"v":107.2},{"s":"s50","c":"blue","h":21.72,"v":103.9},{"s":"s50","c":"blue","h":21.94,"v":100.0},{"s":"s50","c":"blue","h":22.15,"v":96.7},{"s":"s50","c":"blue","h":22.43,"v":93.0},{"s":"s50","c":"blue","h":22.72,"v":90.8},{"s":"s50","c":"blue","h":22.94,"v":89.4},{"s":"s50","c":"blue","h":23.16,"v":90.2},{"s":"s50","c":"blue","h":23.46,"v":91.8},{"s":"s50","c":"blue","h":23.68,"v":94.1},{"s":"s50","c":"blue","h":23.88,"v":97.9},
{"s":"s51","c":"blue2","h":21.12,"v":118.8},{"s":"s51","c":"blue2","h":21.28,"v":120.8},{"s":"s51","c":"blue2","h":21.41,"v":122.1},{"s":"s51","c":"blue2","h":21.56,"v":121.9},{"s":"s51","c":"blue2","h":21.67,"v":122.4},{"s":"s51","c":"blue2","h":21.72,"v":124.0},{"s":"s51","c":"blue2","h":21.78,"v":121.2},{"s":"s51","c":"blue2","h":22.00,"v":118.0},{"s":"s51","c":"blue2","h":22.15,"v":115.8},{"s":"s51","c":"blue2","h":22.37,"v":109.3},{"s":"s51","c":"blue2","h":22.50,"v":104.9},{"s":"s51","c":"blue2","h":22.72,"v":102.8},{"s":"s51","c":"blue2","h":23.09,"v":100.7},{"s":"s51","c":"blue2","h":23.52,"v":100.0},{"s":"s51","c":"blue2","h":23.68,"v":101.1},{"s":"s51","c":"blue2","h":23.88,"v":104.7},
{"s":"s52","c":"blue2","h":14.70,"v":42.8},{"s":"s52","c":"blue2","h":14.75,"v":51.0},{"s":"s52","c":"blue2","h":14.79,"v":53.8},{"s":"s52","c":"blue2","h":14.86,"v":52.6},{"s":"s52","c":"blue2","h":15.01,"v":53.3},{"s":"s52","c":"blue2","h":15.16,"v":51.0},{"s":"s52","c":"blue2","h":15.29,"v":50.0},{"s":"s52","c":"blue2","h":15.45,"v":50.0},{"s":"s52","c":"blue2","h":16.04,"v":52.1},{"s":"s52","c":"blue2","h":16.54,"v":55.9},{"s":"s52","c":"blue2","h":16.91,"v":59.8},{"s":"s52","c":"blue2","h":17.26,"v":64.7},{"s":"s52","c":"blue2","h":17.57,"v":70.1},{"s":"s52","c":"blue2","h":17.78,"v":75.5},{"s":"s52","c":"blue2","h":17.96,"v":79.9},{"s":"s52","c":"blue2","h":18.07,"v":82.0},{"s":"s52","c":"blue2","h":18.22,"v":86.4},{"s":"s52","c":"blue2","h":18.29,"v":88.1},
{"s":"s53","c":"blue2","h":18.50,"v":88.4},{"s":"s53","c":"blue2","h":18.66,"v":90.0},{"s":"s53","c":"blue2","h":18.79,"v":90.8},
{"s":"s54","c":"blue","h":17.30,"v":31.7},{"s":"s54","c":"blue","h":17.92,"v":33.7},{"s":"s54","c":"blue","h":18.35,"v":35.3},{"s":"s54","c":"blue","h":18.79,"v":36.9},{"s":"s54","c":"blue","h":19.09,"v":39.1},{"s":"s54","c":"blue","h":19.44,"v":42.3},{"s":"s54","c":"blue","h":19.81,"v":48.4},{"s":"s54","c":"blue","h":20.19,"v":52.6},{"s":"s54","c":"blue","h":20.54,"v":57.0},{"s":"s54","c":"blue","h":20.85,"v":61.9},{"s":"s54","c":"blue","h":21.12,"v":68.5},{"s":"s54","c":"blue","h":21.41,"v":74.5},{"s":"s54","c":"blue","h":21.67,"v":77.1},
{"s":"s55","c":"blue","h":21.68,"v":79.9},{"s":"s55","c":"blue","h":21.74,"v":83.2},
{"s":"s56","c":"blue2","h":12.83,"v":21.6},{"s":"s56","c":"blue2","h":13.11,"v":19.4},{"s":"s56","c":"blue2","h":13.42,"v":18.3},{"s":"s56","c":"blue2","h":13.64,"v":17.8},{"s":"s56","c":"blue2","h":13.92,"v":16.2},{"s":"s56","c":"blue2","h":14.29,"v":14.5},{"s":"s56","c":"blue2","h":14.86,"v":13.7},{"s":"s56","c":"blue2","h":15.60,"v":13.4},{"s":"s56","c":"blue2","h":15.82,"v":13.7},{"s":"s56","c":"blue2","h":16.17,"v":15.0},{"s":"s56","c":"blue2","h":16.48,"v":17.3},{"s":"s56","c":"blue2","h":16.82,"v":20.6},{"s":"s56","c":"blue2","h":17.19,"v":24.3},{"s":"s56","c":"blue2","h":17.48,"v":29.2},{"s":"s56","c":"blue2","h":17.70,"v":33.7},{"s":"s56","c":"blue2","h":17.92,"v":37.9},{"s":"s56","c":"blue2","h":18.35,"v":48.4},{"s":"s56","c":"blue2","h":18.94,"v":64.7},{"s":"s56","c":"blue2","h":19.53,"v":77.1},{"s":"s56","c":"blue2","h":19.97,"v":86.4},{"s":"s56","c":"blue2","h":20.19,"v":91.8},{"s":"s56","c":"blue2","h":20.41,"v":97.4},{"s":"s56","c":"blue2","h":20.74,"v":108.2},
{"s":"s57","c":"azure","h":13.98,"v":34.2},{"s":"s57","c":"azure","h":14.14,"v":33.0},{"s":"s57","c":"azure","h":14.51,"v":29.7},{"s":"s57","c":"azure","h":14.86,"v":28.1},{"s":"s57","c":"azure","h":15.23,"v":27.1},{"s":"s57","c":"azure","h":15.67,"v":26.5},{"s":"s57","c":"azure","h":16.04,"v":27.1},{"s":"s57","c":"azure","h":16.54,"v":29.6},{"s":"s57","c":"azure","h":16.98,"v":31.4},{"s":"s57","c":"azure","h":17.48,"v":33.7},{"s":"s57","c":"azure","h":17.85,"v":37.4},{"s":"s57","c":"azure","h":18.18,"v":44.0},{"s":"s57","c":"azure","h":18.50,"v":52.1},{"s":"s57","c":"azure","h":18.83,"v":60.3},{"s":"s57","c":"azure","h":19.16,"v":69.3},{"s":"s57","c":"azure","h":19.53,"v":79.9},{"s":"s57","c":"azure","h":19.81,"v":88.1},
{"s":"s58","c":"blue","h":14.36,"v":28.1},{"s":"s58","c":"blue","h":14.57,"v":26.5},{"s":"s58","c":"blue","h":14.86,"v":26.3},{"s":"s58","c":"blue","h":15.23,"v":26.3},{"s":"s58","c":"blue","h":15.67,"v":26.0},{"s":"s58","c":"blue","h":16.10,"v":26.8},{"s":"s58","c":"blue","h":16.54,"v":29.2},{"s":"s58","c":"blue","h":16.87,"v":32.5},{"s":"s58","c":"blue","h":17.04,"v":37.4},{"s":"s58","c":"blue","h":17.63,"v":48.9},{"s":"s58","c":"blue","h":18.29,"v":61.9},{"s":"s58","c":"blue","h":18.94,"v":75.0},{"s":"s58","c":"blue","h":19.53,"v":86.4},{"s":"s58","c":"blue","h":19.81,"v":91.8},
{"s":"s59","c":"skyblue","h":15.95,"v":32.2},{"s":"s59","c":"skyblue","h":16.54,"v":33.8},{"s":"s59","c":"skyblue","h":17.13,"v":35.8},{"s":"s59","c":"skyblue","h":17.63,"v":37.4},{"s":"s59","c":"skyblue","h":17.99,"v":39.1},{"s":"s59","c":"skyblue","h":18.29,"v":44.8},{"s":"s59","c":"skyblue","h":18.66,"v":53.8},{"s":"s59","c":"skyblue","h":19.23,"v":64.7},{"s":"s59","c":"skyblue","h":19.81,"v":77.1},{"s":"s59","c":"skyblue","h":20.19,"v":86.4},{"s":"s59","c":"skyblue","h":20.32,"v":88.6},
{"s":"s60","c":"yellow","h":9.55,"v":19.0},{"s":"s60","c":"yellow","h":9.71,"v":12.4},{"s":"s60","c":"yellow","h":9.92,"v":10.1},{"s":"s60","c":"yellow","h":10.27,"v":12.4},{"s":"s60","c":"yellow","h":10.50,"v":8.0},{"s":"s60","c":"yellow","h":10.80,"v":10.1},{"s":"s60","c":"yellow","h":11.02,"v":10.9},{"s":"s60","c":"yellow","h":11.30,"v":10.1},{"s":"s60","c":"yellow","h":11.67,"v":7.5},{"s":"s60","c":"yellow","h":12.11,"v":4.7},{"s":"s60","c":"yellow","h":12.68,"v":1.0},{"s":"s60","c":"yellow","h":13.26,"v":-2.3},{"s":"s60","c":"yellow","h":13.77,"v":-3.4},{"s":"s60","c":"yellow","h":14.14,"v":-3.9},{"s":"s60","c":"yellow","h":14.57,"v":-4.6},{"s":"s60","c":"yellow","h":14.86,"v":-4.2},{"s":"s60","c":"yellow","h":15.23,"v":-2.9},{"s":"s60","c":"yellow","h":15.60,"v":2.0},{"s":"s60","c":"yellow","h":15.82,"v":5.2},{"s":"s60","c":"yellow","h":16.17,"v":11.8},{"s":"s60","c":"yellow","h":16.54,"v":17.3},{"s":"s60","c":"yellow","h":16.91,"v":22.7},{"s":"s60","c":"yellow","h":17.13,"v":26.5},{"s":"s60","c":"yellow","h":17.57,"v":39.1},{"s":"s60","c":"yellow","h":17.74,"v":48.9},{"s":"s60","c":"yellow","h":17.92,"v":58.2},
{"s":"s61","c":"green","h":15.62,"v":34.2},{"s":"s61","c":"green","h":15.71,"v":37.4},{"s":"s61","c":"green","h":15.88,"v":45.6},{"s":"s61","c":"green","h":16.06,"v":53.8},{"s":"s61","c":"green","h":16.17,"v":57.8},
{"s":"s62","c":"cyan","h":8.75,"v":44.4},{"s":"s62","c":"cyan","h":8.83,"v":37.4},{"s":"s62","c":"cyan","h":8.90,"v":35.0},{"s":"s62","c":"cyan","h":8.97,"v":32.0},{"s":"s62","c":"cyan","h":9.05,"v":32.0},{"s":"s62","c":"cyan","h":9.27,"v":29.7},{"s":"s62","c":"cyan","h":9.49,"v":30.9},{"s":"s62","c":"cyan","h":9.60,"v":28.1},{"s":"s62","c":"cyan","h":9.71,"v":25.5},
{"s":"s63","c":"cyan","h":9.62,"v":22.7},{"s":"s63","c":"cyan","h":9.99,"v":19.9},{"s":"s63","c":"cyan","h":10.36,"v":17.8},{"s":"s63","c":"cyan","h":10.80,"v":16.7},{"s":"s63","c":"cyan","h":11.37,"v":16.7},{"s":"s63","c":"cyan","h":11.95,"v":16.5},{"s":"s63","c":"cyan","h":12.39,"v":15.0},{"s":"s63","c":"cyan","h":12.83,"v":14.1},{"s":"s63","c":"cyan","h":13.26,"v":14.5},{"s":"s63","c":"cyan","h":13.55,"v":15.0},{"s":"s63","c":"cyan","h":13.64,"v":17.3},{"s":"s63","c":"cyan","h":13.68,"v":12.4},
{"s":"s64","c":"blue","h":13.42,"v":37.9},{"s":"s64","c":"blue","h":13.55,"v":35.8},{"s":"s64","c":"blue","h":13.64,"v":34.6},{"s":"s64","c":"blue","h":13.77,"v":35.8},
{"s":"s65","c":"blue","h":13.98,"v":40.2},{"s":"s65","c":"blue","h":14.14,"v":39.1},{"s":"s65","c":"blue","h":14.29,"v":37.9},{"s":"s65","c":"blue","h":14.42,"v":37.4},{"s":"s65","c":"blue","h":14.64,"v":37.9},{"s":"s65","c":"blue","h":14.73,"v":40.7},{"s":"s65","c":"blue","h":14.77,"v":34.2},
{"s":"s66","c":"green","h":12.54,"v":30.9},{"s":"s66","c":"green","h":12.83,"v":31.4},{"s":"s66","c":"green","h":13.20,"v":29.7},{"s":"s66","c":"green","h":13.42,"v":27.6},{"s":"s66","c":"green","h":13.64,"v":27.1},{"s":"s66","c":"green","h":13.85,"v":29.2},
{"s":"s67","c":"green","h":13.92,"v":27.6},{"s":"s67","c":"green","h":14.14,"v":28.1},{"s":"s67","c":"green","h":14.29,"v":26.5},{"s":"s67","c":"green","h":14.51,"v":23.9},{"s":"s67","c":"green","h":14.86,"v":19.9},{"s":"s67","c":"green","h":15.16,"v":15.7},
{"s":"s68","c":"cyan","h":13.92,"v":21.1},{"s":"s68","c":"cyan","h":14.14,"v":21.4},{"s":"s68","c":"cyan","h":14.36,"v":20.6},{"s":"s68","c":"cyan","h":14.46,"v":19.4},
{"s":"s69","c":"lime","h":11.67,"v":22.7},{"s":"s69","c":"lime","h":11.95,"v":21.6},{"s":"s69","c":"lime","h":12.11,"v":16.7},{"s":"s69","c":"lime","h":12.24,"v":18.3},{"s":"s69","c":"lime","h":12.61,"v":19.0},
{"s":"s70","c":"lime","h":7.15,"v":30.4},{"s":"s70","c":"lime","h":7.30,"v":27.6},{"s":"s70","c":"lime","h":7.37,"v":23.9},{"s":"s70","c":"lime","h":7.52,"v":25.5},{"s":"s70","c":"lime","h":7.66,"v":19.9},{"s":"s70","c":"lime","h":7.74,"v":18.3},{"s":"s70","c":"lime","h":7.81,"v":23.2},
{"s":"s71","c":"spring","h":6.43,"v":30.9},{"s":"s71","c":"spring","h":6.60,"v":26.8},{"s":"s71","c":"spring","h":6.71,"v":23.2},{"s":"s71","c":"spring","h":6.82,"v":24.7},{"s":"s71","c":"spring","h":6.89,"v":22.4},
{"s":"s72","c":"spring","h":6.91,"v":30.9},{"s":"s72","c":"spring","h":6.95,"v":26.5},
{"s":"s73","c":"ygreen","h":10.27,"v":18.3},{"s":"s73","c":"ygreen","h":10.43,"v":20.3},{"s":"s73","c":"ygreen","h":10.58,"v":23.9},
{"s":"s74","c":"turq","h":10.86,"v":30.4},{"s":"s74","c":"turq","h":10.89,"v":23.2},
{"s":"s75","c":"green","h":11.08,"v":38.6},{"s":"s75","c":"green","h":11.15,"v":34.2},
{"s":"s76","c":"green","h":2.74,"v":99.5},{"s":"s76","c":"green","h":2.85,"v":99.2},
{"s":"s77","c":"green","h":3.18,"v":99.5},{"s":"s77","c":"green","h":3.37,"v":100.2},
{"s":"s78","c":"ygreen","h":0.97,"v":88.1},{"s":"s78","c":"ygreen","h":1.19,"v":88.6},{"s":"s78","c":"ygreen","h":1.23,"v":85.3},
{"s":"s79","c":"blue","h":17.13,"v":38.7},{"s":"s79","c":"blue","h":17.16,"v":34.2},{"s":"s79","c":"blue","h":17.19,"v":28.1},
{"s":"s80","c":"rorange","h":16.04,"v":20.6},{"s":"s80","c":"rorange","h":16.26,"v":22.2},{"s":"s80","c":"rorange","h":16.32,"v":23.2},{"s":"s80","c":"rorange","h":16.39,"v":24.7},{"s":"s80","c":"rorange","h":16.76,"v":25.2},{"s":"s80","c":"rorange","h":17.26,"v":26.0},{"s":"s80","c":"rorange","h":17.99,"v":27.6},{"s":"s80","c":"rorange","h":18.57,"v":30.4},{"s":"s80","c":"rorange","h":19.09,"v":33.7},{"s":"s80","c":"rorange","h":19.53,"v":39.1},{"s":"s80","c":"rorange","h":20.10,"v":53.8},{"s":"s80","c":"rorange","h":20.54,"v":67.3},{"s":"s80","c":"rorange","h":20.85,"v":78.3},{"s":"s80","c":"rorange","h":21.12,"v":86.4},{"s":"s80","c":"rorange","h":21.41,"v":96.2},{"s":"s80","c":"rorange","h":21.63,"v":103.9},{"s":"s80","c":"rorange","h":21.78,"v":105.2},{"s":"s80","c":"rorange","h":21.85,"v":106.5},
{"s":"s81","c":"red","h":22.81,"v":86.1},{"s":"s81","c":"red","h":23.02,"v":84.8},{"s":"s81","c":"red","h":23.30,"v":82.7},{"s":"s81","c":"red","h":23.52,"v":78.3},{"s":"s81","c":"red","h":23.81,"v":72.9},{"s":"s81","c":"red","h":23.96,"v":70.9}
]},
"mark":{"type":"line","strokeWidth":2.3,"clip":true},
"encoding":{
"x":{"field":"h","type":"quantitative","scale":{"domain":[0,23.865],"nice":false,"zero":false},
 "axis":{"orient":"bottom","values":[0,5,10,15,20],"ticks":false,"domain":false,"grid":false,"title":null,
  "labelExpr":"[(datum.value < 10 ? '0' : '') + datum.value + ':00:00', '06/23/14']",
  "labelFont":"DejaVu Sans Mono","labelFontWeight":"normal","labelFontSize":34,"labelColor":"#2a2a2a","labelPadding":31,"labelLineHeight":38,"labelFlush":false,"labelOverlap":false,"labelAlign":"center","labelBaseline":"top"}},
"y":{"field":"v","type":"quantitative","scale":{"domain":[-10,130],"nice":false,"zero":false},
 "axis":{"orient":"left","values":[0,20,40,60,80,100,120],"ticks":false,"domain":false,"grid":false,
  "title":"Slant TEC","titleFont":"Liberation Sans","titleFontSize":53,"titleFontWeight":"normal","titleColor":"#000000","titleAngle":-90,"titleX":-96,"titleY":420,"titleAlign":"center","titleBaseline":"alphabetic",
  "labelFont":"DejaVu Sans","labelFontWeight":"normal","labelFontSize":32,"labelColor":"#555555","labelPadding":15,"labelFlush":false,"labelOverlap":false,"labelAlign":"right","labelBaseline":"middle"}},
"color":{"field":"c","type":"nominal","legend":null,"scale":{
 "domain":["purple","indigo","blue","blue2","azure","skyblue","cyan","turq","spring","green","lime","ygreen","yellow","gold","orange","dorange","rorange","red"],
 "range":["#6422b4","#4421d6","#2424e8","#1f50ff","#2f7dff","#1ebcff","#1ee6e6","#1ee6bc","#1ee682","#1ee61e","#7ee61e","#bef000","#f2f200","#ffd200","#ffa514","#ff7a28","#ff4614","#ff0a0a"]}},
"detail":{"field":"s","type":"nominal"}
}},
{"data":{"values":[{"h":0,"v":0}]},"mark":{"type":"point","opacity":0},
"encoding":{
"x":{"field":"h","type":"quantitative","scale":{"domain":[0,23.865],"nice":false,"zero":false},
 "axis":{"orient":"bottom","values":[0,5,10,15,20],"labels":false,"ticks":true,"tickSize":-17,"tickWidth":3.5,"tickColor":"#000000","domain":true,"domainWidth":4,"domainColor":"#000000","domainCap":"square","grid":false,"title":null}},
"y":{"field":"v","type":"quantitative","scale":{"domain":[-10,130],"nice":false,"zero":false},
 "axis":{"orient":"left","values":[0,20,40,60,80,100,120],"labels":false,"ticks":true,"tickSize":-22,"tickWidth":3.5,"tickColor":"#000000","domain":true,"domainWidth":4,"domainColor":"#000000","domainCap":"square","grid":false,"title":null}}
}},
{"data":{"values":[{"h":0,"v":0}]},"mark":{"type":"point","opacity":0},
"encoding":{
"x":{"field":"h","type":"quantitative","scale":{"domain":[0,23.865],"nice":false,"zero":false},
 "axis":{"orient":"bottom","values":[1,2,3,4,6,7,8,9,11,12,13,14,16,17,18,19,21,22,23],"labels":false,"ticks":true,"tickSize":-8,"tickWidth":3.5,"tickColor":"#000000","domain":false,"grid":false,"title":null}},
"y":{"field":"v","type":"quantitative","scale":{"domain":[-10,130],"nice":false,"zero":false},
 "axis":{"orient":"left","values":[-5,5,10,15,25,30,35,45,50,55,65,70,75,85,90,95,105,110,115,125],"labels":false,"ticks":true,"tickSize":-11,"tickWidth":3.5,"tickColor":"#000000","domain":false,"grid":false,"title":null}}
}},
{"data":{"values":[{"h":0,"v":0}]},"mark":{"type":"point","opacity":0},
"encoding":{
"x":{"field":"h","type":"quantitative","scale":{"domain":[0,23.865],"nice":false,"zero":false},
 "axis":{"orient":"top","values":[0,5,10,15,20],"labels":false,"ticks":true,"tickSize":-17,"tickWidth":3.5,"tickColor":"#000000","domain":true,"domainWidth":4,"domainColor":"#000000","domainCap":"square","grid":false,"title":null}},
"y":{"field":"v","type":"quantitative","scale":{"domain":[-10,130],"nice":false,"zero":false},
 "axis":{"orient":"right","offset":8,"values":[0,20,40,60,80,100,120],"labels":false,"ticks":true,"tickSize":-22,"tickWidth":3.5,"tickColor":"#000000","domain":false,"grid":false,"title":null}}
}},
{"data":{"values":[{"h":0,"v":0}]},"mark":{"type":"point","opacity":0},
"encoding":{
"x":{"field":"h","type":"quantitative","scale":{"domain":[0,23.865],"nice":false,"zero":false},
 "axis":{"orient":"top","values":[1,2,3,4,6,7,8,9,11,12,13,14,16,17,18,19,21,22,23],"labels":false,"ticks":true,"tickSize":-8,"tickWidth":3.5,"tickColor":"#000000","domain":false,"grid":false,"title":null}},
"y":{"field":"v","type":"quantitative","scale":{"domain":[-10,130],"nice":false,"zero":false},
 "axis":{"orient":"right","offset":8,"values":[-5,5,10,15,25,30,35,45,50,55,65,70,75,85,90,95,105,110,115,125],"labels":false,"ticks":true,"tickSize":-11,"tickWidth":3.5,"tickColor":"#000000","domain":false,"grid":false,"title":null}}
}},
{"data":{"values":[
{"a":1,"x1":3.913,"y1":133.8,"x2":5.186,"y2":92.5},{"a":1,"x1":4.786,"y1":96.1,"x2":5.186,"y2":92.5},{"a":1,"x1":5.345,"y1":97.0,"x2":5.186,"y2":92.5},
{"a":2,"x1":5.004,"y1":133.8,"x2":10.114,"y2":61.65},{"a":2,"x1":9.552,"y1":64.38,"x2":10.114,"y2":61.65},{"a":2,"x1":10.061,"y1":66.29,"x2":10.114,"y2":61.65},
{"a":3,"x1":6.105,"y1":133.8,"x2":14.624,"y2":53.2},{"a":3,"x1":14.028,"y1":55.0,"x2":14.624,"y2":53.2},{"a":3,"x1":14.502,"y1":57.68,"x2":14.624,"y2":53.2},
{"a":4,"x1":9.146,"y1":133.8,"x2":21.27,"y2":95.42},{"a":4,"x1":20.85,"y1":98.86,"x2":21.27,"y2":95.42},{"a":4,"x1":20.63,"y1":95.15,"x2":21.27,"y2":95.42}
]},
"mark":{"type":"rule","color":"#000000","strokeWidth":6.5,"strokeCap":"round","clip":false},
"encoding":{
"x":{"field":"x1","type":"quantitative","scale":{"domain":[0,23.865],"nice":false,"zero":false},"axis":null},
"y":{"field":"y1","type":"quantitative","scale":{"domain":[-10,130],"nice":false,"zero":false},"axis":null},
"x2":{"field":"x2"},
"y2":{"field":"y2"}
}}
]
}
